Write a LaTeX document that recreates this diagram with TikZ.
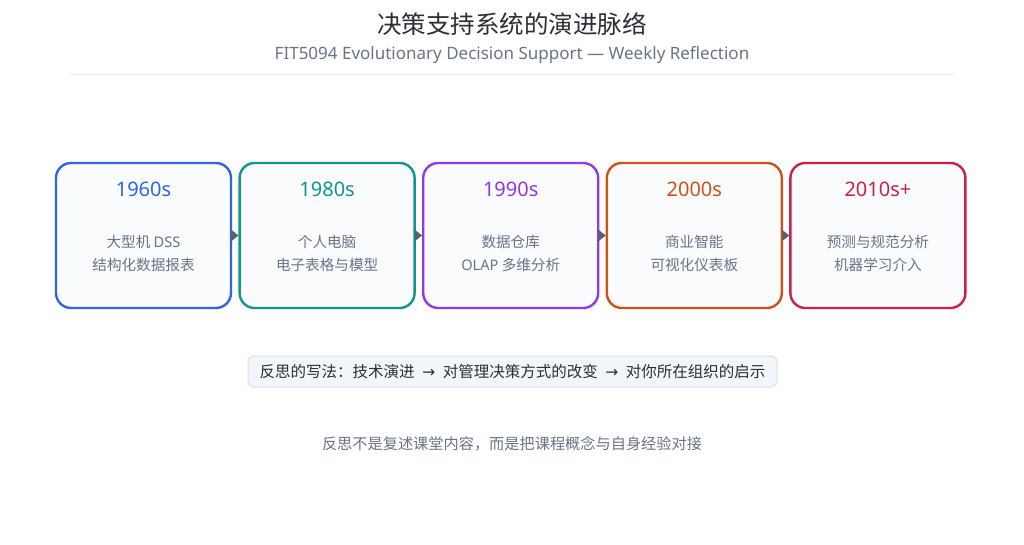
\documentclass[tikz,border=0pt]{standalone}
\usepackage{fontspec}
\setmainfont{Noto Sans CJK SC}
\newfontfamily\latin{Noto Sans}
\newfontfamily\symb{DejaVu Sans}
\usetikzlibrary{arrows.meta}

\definecolor{eraA}{HTML}{2F66E6}
\definecolor{eraB}{HTML}{10968A}
\definecolor{eraC}{HTML}{9138EA}
\definecolor{eraD}{HTML}{CC521A}
\definecolor{eraE}{HTML}{CC1F4A}
\definecolor{boxfill}{HTML}{F9FBFD}
\definecolor{bodygray}{HTML}{687487}
\definecolor{titlegray}{HTML}{2B2F36}
\definecolor{rulegray}{HTML}{E3E6EA}
\definecolor{notefill}{HTML}{F2F6FB}
\definecolor{noteline}{HTML}{D6E0EE}
\definecolor{arrowgray}{HTML}{56606E}

\tikzset{
	era/.style={draw=#1, fill=boxfill, line width=2.4pt, rounded corners=15pt,
		minimum width=175pt, minimum height=145pt, inner sep=0pt},
	year/.style={text=#1, font=\latin\fontsize{20}{23}\selectfont},
	body/.style={text=bodygray, align=center, font=\fontsize{14.6}{23}\selectfont},
	link/.style={draw=arrowgray, line width=0.1pt, -{Triangle[length=7pt,width=11pt]}, fill=arrowgray}
}

\begin{document}
\begin{tikzpicture}[x=1pt, y=-1pt]
	\useasboundingbox (0,0) rectangle (1024,545);
	\fill[white] (0,0) rectangle (1024,545);

	%title
	\node[text=titlegray, font=\fontsize{24.5}{28}\selectfont] (title) at (512,24) {决策支持系统的演进脉络};
	\node[text=bodygray, font=\latin\fontsize{17}{19}\selectfont] (subtitle) at (512,55) {FIT5094 Evolutionary Decision Support — Weekly Reflection};
	\coordinate (ruleL) at (70,75);
	\coordinate (ruleR) at (954,75);
	\draw[rulegray, line width=1pt] (ruleL) -- (ruleR);

	%eras
	\foreach \i/\c/\yr/\lineA/\lineB in {
		1/eraA/1960s/大型机 {\latin DSS}/结构化数据报表,
		2/eraB/1980s/个人电脑/电子表格与模型,
		3/eraC/1990s/数据仓库/{\latin OLAP} 多维分析,
		4/eraD/2000s/商业智能/可视化仪表板,
		5/eraE/2010s+/预测与规范分析/机器学习介入}{
		\pgfmathsetmacro{\x}{143.5+183.6*(\i-1)}
		\node[era=\c] (b\i) at (\x,235.5) {};
		\node[year=\c] (y\i) at (\x,189) {\yr};
		\node[body] (t\i) at (\x,253.5) {\lineA\\\lineB};
	}

	\foreach \i [evaluate=\i as \j using int(\i+1)] in {1,...,4}{
		\draw[link] (b\i.east) -- (b\j.west);
	}

	%reflection
	\node[draw=noteline, fill=notefill, line width=1pt, rounded corners=6pt,
		minimum width=529pt, minimum height=31pt, text=titlegray,
		font=\fontsize{15.5}{17}\selectfont] (note) at (512.5,371.5)
		{反思的写法：技术演进{\symb\ \,→\ \,}对管理决策方式的改变{\symb\ \,→\ \,}对你所在组织的启示};

	\node[text=bodygray, font=\fontsize{15.2}{17}\selectfont] (footer) at (512,444)
		{反思不是复述课堂内容，而是把课程概念与自身经验对接};
\end{tikzpicture}
\end{document}
